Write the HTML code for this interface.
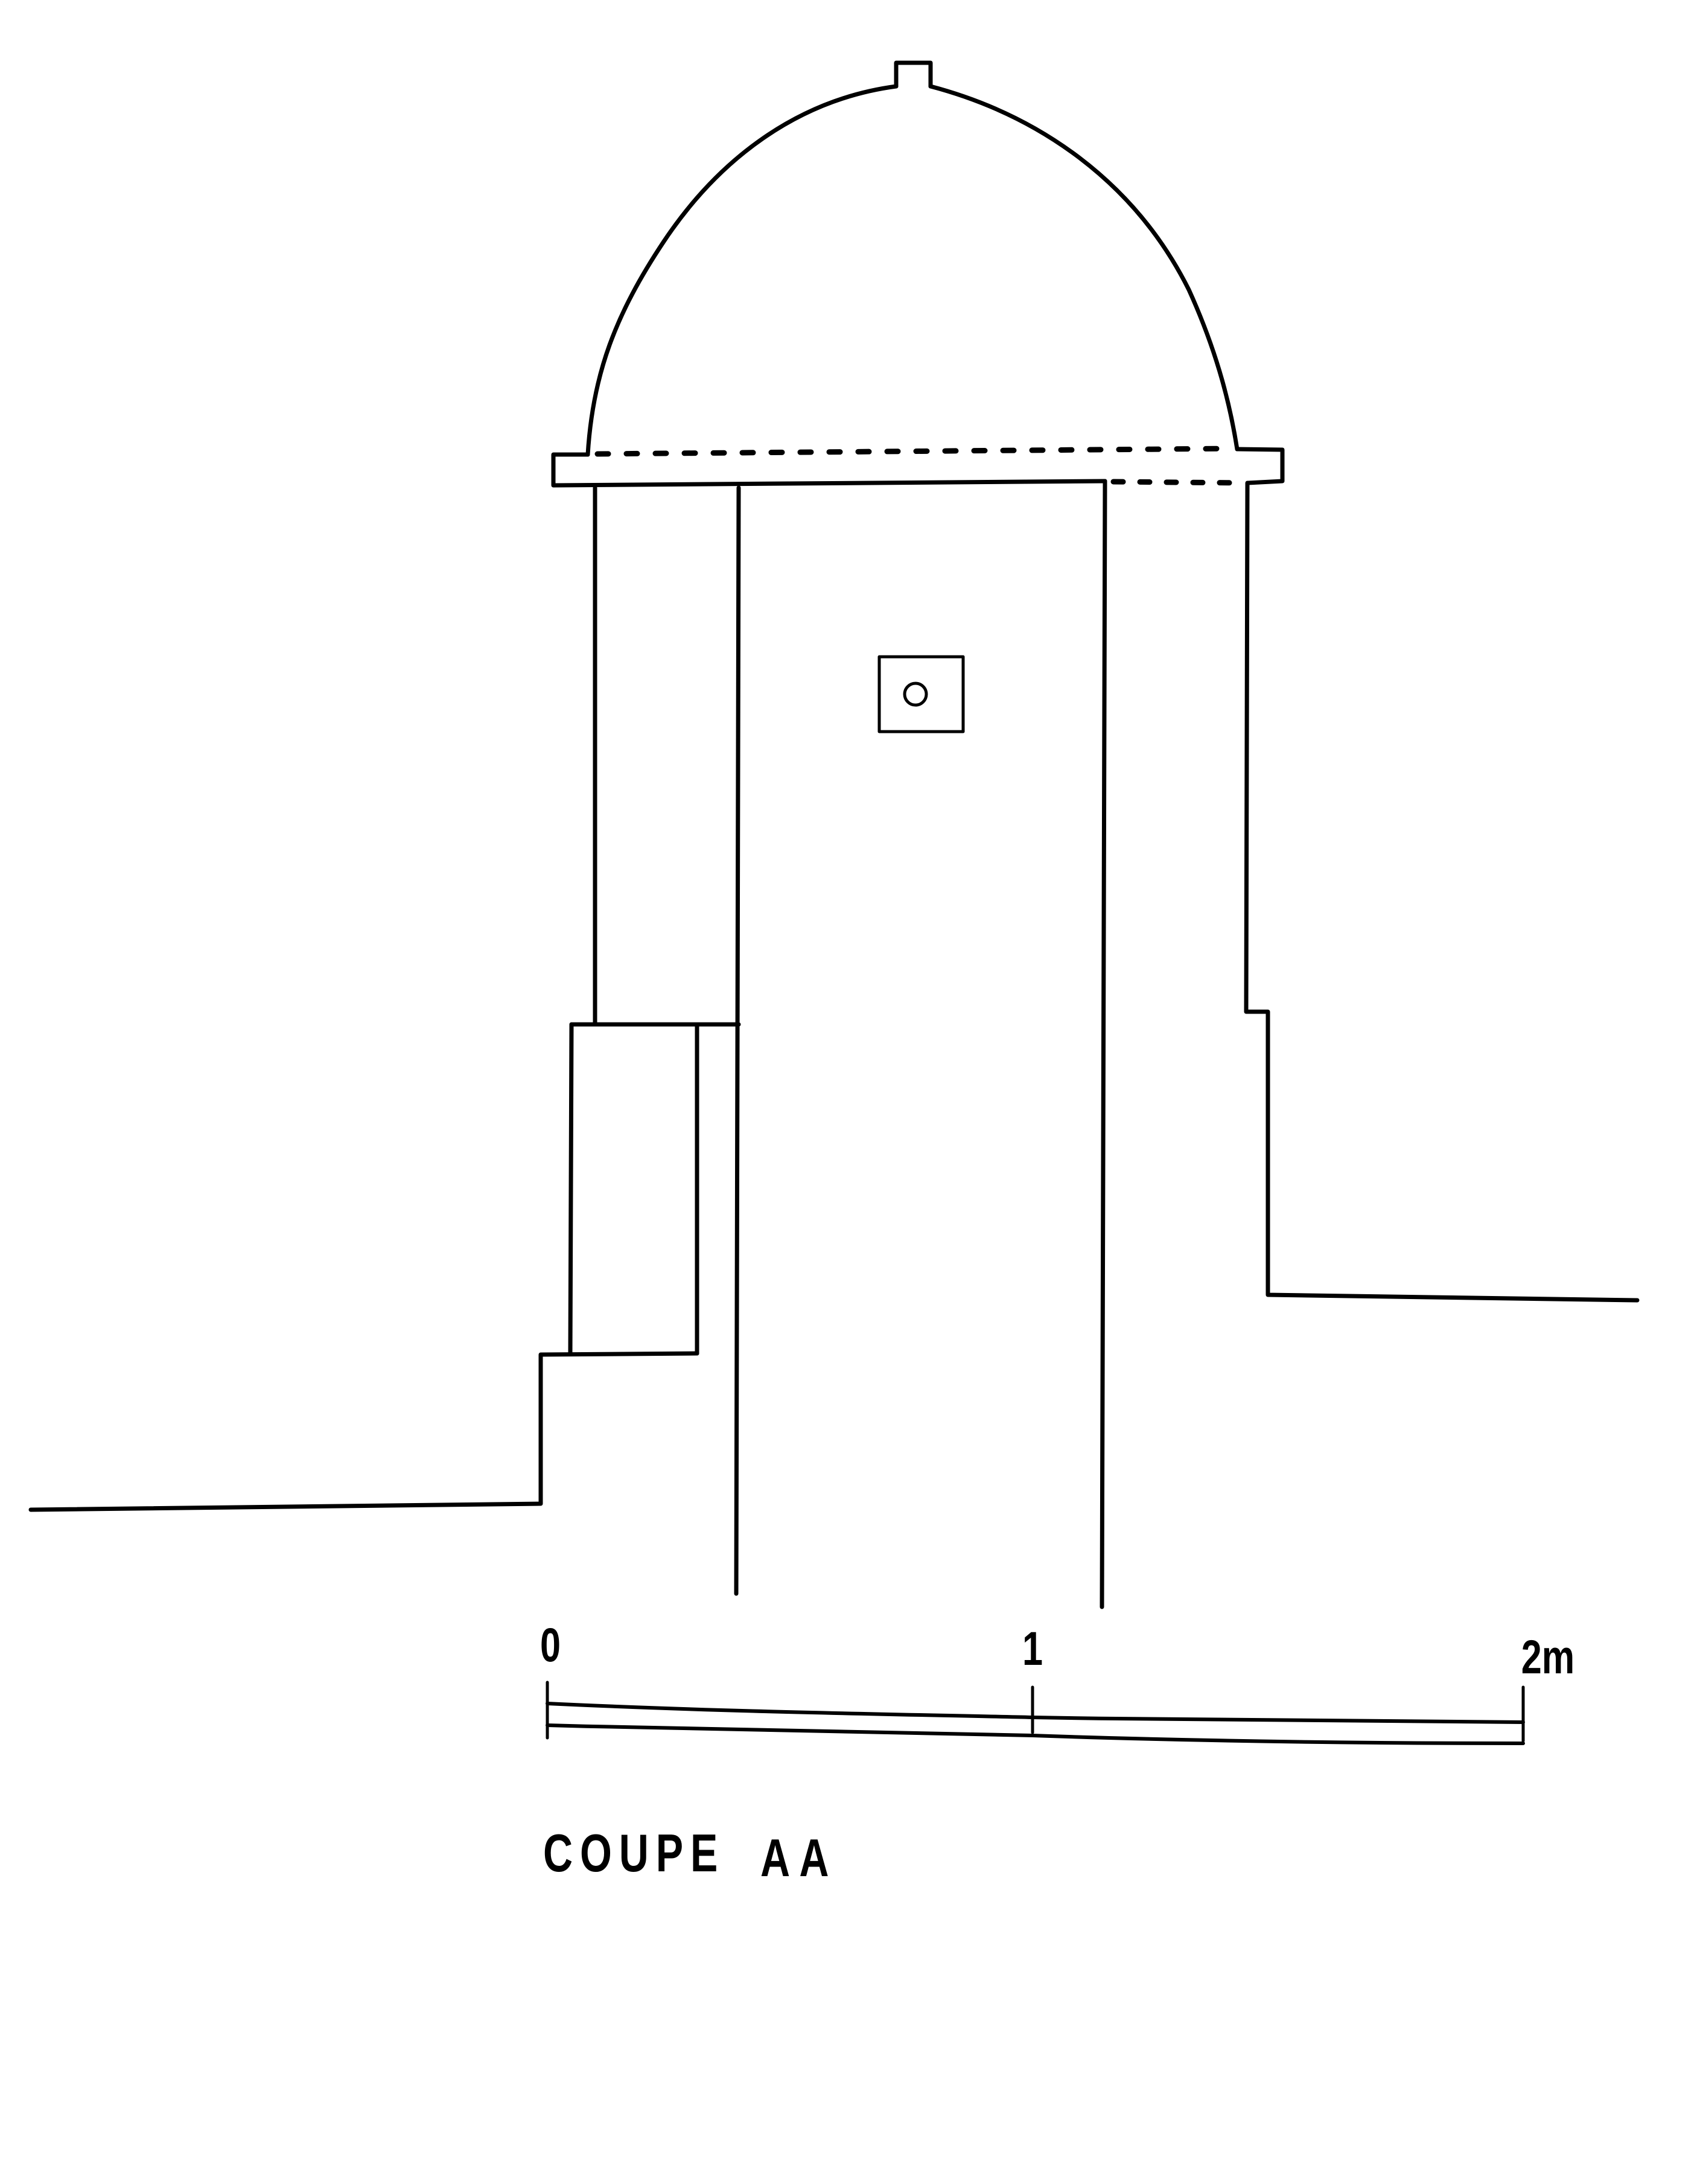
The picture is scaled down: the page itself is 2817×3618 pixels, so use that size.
<!DOCTYPE html>
<html><head><meta charset="utf-8"><style>
html,body{margin:0;padding:0;background:#fff;}
svg{display:block;}
text{font-family:"Liberation Sans",sans-serif;font-weight:bold;fill:#000;}
</style></head><body>
<svg width="2817" height="3618" viewBox="0 0 2817 3618" xmlns="http://www.w3.org/2000/svg">
<g fill="none" stroke="#000" stroke-width="7" stroke-linecap="round" stroke-linejoin="round">
<!-- dome -->
<path d="M974,753 C982,620 1020,520 1100,400 C1190,265 1320,165 1485,143"/>
<path d="M1485,143 L1485,104 L1542,104 L1542,143"/>
<path d="M1542,143 C1720,190 1880,300 1970,480 C2020,590 2040,680 2050,744"/>
<!-- rim -->
<path d="M974,753 L917,753 L917,804 L1831,797"/>
<path d="M2050,744 L2125,745 L2125,797 L2068,800"/>
<path d="M990,752 L2045,743" stroke-dasharray="18,30" stroke-width="9"/>
<path d="M1845,798 L2060,800" stroke-dasharray="16,28" stroke-width="9"/>
<!-- walls -->
<line x1="986" y1="808" x2="986" y2="1695"/>
<line x1="1224" y1="808" x2="1220" y2="2640"/>
<line x1="1831" y1="797" x2="1826" y2="2662"/>
<path d="M2067,800 L2065,1676 L2101,1676 L2101,2145 L2713,2154"/>
<!-- left stair -->
<path d="M947,1697 L1224,1697"/>
<path d="M947,1697 L945,2242"/>
<path d="M1155,1697 L1155,2242"/>
<path d="M1155,2242 L896,2244 L896,2491 L51,2501"/>
<!-- window -->
<rect x="1457" y="1088" width="139" height="124" stroke-width="5"/>
<circle cx="1517" cy="1150" r="18" stroke-width="5"/>
<!-- scale -->
<line x1="907" y1="2787" x2="907" y2="2879" stroke-width="5"/>
<line x1="1711" y1="2795" x2="1711" y2="2870" stroke-width="5"/>
<line x1="2524" y1="2795" x2="2524" y2="2884" stroke-width="5"/>
<path d="M907,2822 C1200,2836 1500,2840 1711,2845 C2000,2850 2300,2852 2524,2853" stroke-width="6"/>
<path d="M907,2858 C1200,2866 1500,2872 1711,2875 C2000,2885 2300,2888 2524,2888" stroke-width="6"/>
</g>
<text transform="translate(912,2752) scale(0.85,1.1)" font-size="72" text-anchor="middle">0</text>
<text transform="translate(1711,2758) scale(0.85,1.1)" font-size="72" text-anchor="middle">1</text>
<text transform="translate(2565,2772) scale(0.85,1.1)" font-size="72" text-anchor="middle">2m</text>
<text transform="translate(900,3100) scale(0.85,1.1)" font-size="80" letter-spacing="14">COUPE</text>
<text transform="translate(1260,3108) scale(0.85,1.1)" font-size="80" letter-spacing="18">AA</text>
</svg>
</body></html>
